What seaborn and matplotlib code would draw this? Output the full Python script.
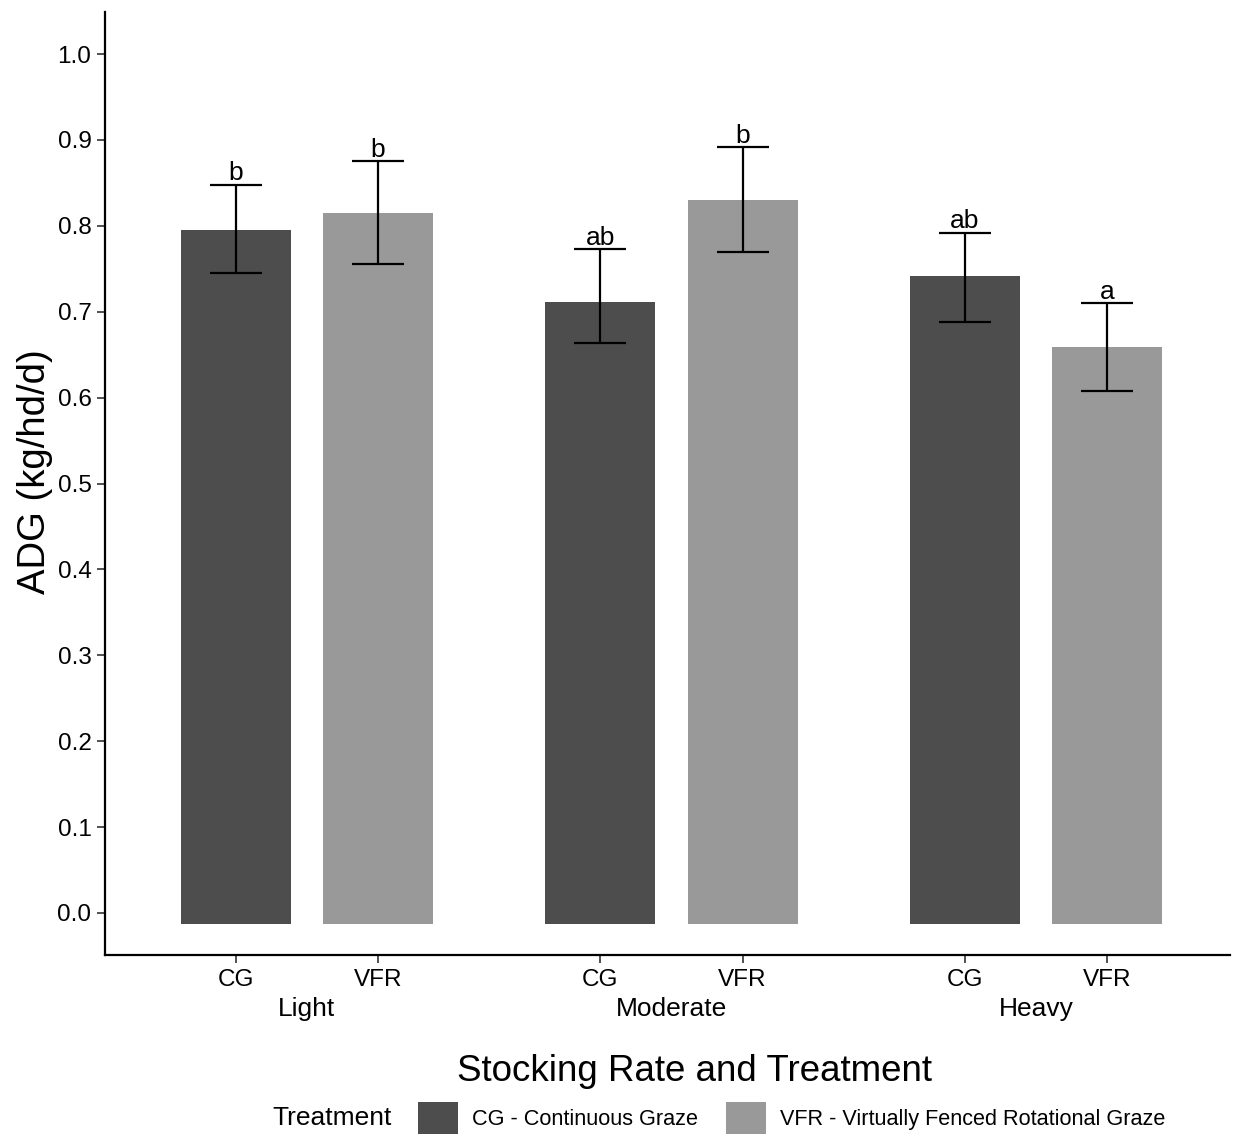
import numpy as np
import pandas as pd
import matplotlib
matplotlib.use("Agg")
import matplotlib.pyplot as plt
from matplotlib.patches import Patch
import seaborn as sns

# Values
stocking = ["Light", "Light", "Moderate", "Moderate", "Heavy", "Heavy"]
treatment = ["CG", "VFR", "CG", "VFR", "CG", "VFR"]
adg = [0.795, 0.815, 0.711, 0.830, 0.742, 0.659]
adg_low = [0.745, 0.756, 0.664, 0.769, 0.688, 0.608]
adg_high = [0.848, 0.875, 0.773, 0.892, 0.792, 0.710]
letters = ["b", "b", "ab", "b", "ab", "a"]

group_order = ["Light", "Moderate", "Heavy"]
trt_order = ["CG", "VFR"]
trt_colors = {"CG": "#4d4d4d", "VFR": "#999999"}
legend_labels = ["CG - Continuous Graze", "VFR - Virtually Fenced Rotational Graze"]
bar_floor = -0.013  # bars in the original start a little under zero

df = pd.DataFrame({"stocking": stocking, "treatment": treatment, "adg": adg,
                   "low": adg_low, "high": adg_high, "letter": letters})

sns.set_style("white")
plt.rcParams["font.family"] = ["Liberation Sans", "DejaVu Sans"]
plt.rcParams["text.color"] = "black"

fig = plt.figure(figsize=(12.41, 11.42), dpi=100)
ax = fig.add_axes([0.0846, 0.1637, 0.9065, 0.8258])

sns.barplot(data=df, x="stocking", y="adg", hue="treatment", order=group_order,
            hue_order=trt_order, palette=trt_colors, width=0.78, gap=0.226,
            errorbar=None, saturation=1, linewidth=0, legend=False, ax=ax)

# match bars to rows by position
df["g"] = df["stocking"].map({g: i for i, g in enumerate(group_order)})
df["t"] = df["treatment"].map({t: i for i, t in enumerate(trt_order)})
rows = df.sort_values(["g", "t"]).reset_index(drop=True)
bars = sorted(ax.patches, key=lambda p: p.get_x())

centers = []
for bar, (_, r) in zip(bars, rows.iterrows()):
    bar.set_y(bar_floor)
    bar.set_height(r["adg"] - bar_floor)
    xc = bar.get_x() + bar.get_width() / 2
    centers.append(xc)
    ax.errorbar(xc, r["adg"], yerr=[[r["adg"] - r["low"]], [r["high"] - r["adg"]]],
                color="black", lw=1.6, capsize=19, capthick=1.6, zorder=3)
    ax.text(xc, r["high"] + 0.005, r["letter"], ha="center", va="baseline",
            fontsize=19, color="black")

ax.set_ylim(-0.049, 1.049)
ax.set_xlim(-0.554, 2.532)
ax.set_yticks(np.arange(0, 1.01, 0.1))
ax.set_yticklabels([f"{v:.1f}" for v in np.arange(0, 1.01, 0.1)])
ax.set_xticks(centers)
ax.set_xticklabels(rows["treatment"])
ax.set_xticks(range(len(group_order)), minor=True)
ax.set_xticklabels(group_order, minor=True)
ax.tick_params(axis="both", which="major", length=5.5, width=1.2, color="#333333",
               labelsize=17.5, labelcolor="black", pad=4.3)
ax.tick_params(axis="x", which="minor", length=0, labelsize=19, labelcolor="black", pad=30)
ax.tick_params(left=True, bottom=True)
ax.set_xlabel("")
ax.set_ylabel("")

for side in ["top", "right"]:
    ax.spines[side].set_visible(False)
for side in ["left", "bottom"]:
    ax.spines[side].set_color("black")
    ax.spines[side].set_linewidth(1.6)

fig.text(35 / 1241, 1 - 472 / 1142, "ADG (kg/hd/d)", rotation=90,
         ha="center", va="center", fontsize=27.5, color="black")
fig.text(0.560, 0.062, "Stocking Rate and Treatment", ha="center", va="center",
         fontsize=26.5, color="black")
fig.text(0.2675, 0.021, "Treatment", ha="center", va="center", fontsize=19, color="black")

handles = [Patch(facecolor=trt_colors[t], edgecolor="none") for t in trt_order]
fig.legend(handles, legend_labels, ncol=2, loc="center left",
           bbox_to_anchor=(418 / 1241, 0.021), frameon=False,
           handlelength=1.84, handleheight=1.84, handletextpad=0.65,
           columnspacing=1.3, borderpad=0, borderaxespad=0,
           prop={"size": 15.6})

fig.savefig("out.png", dpi=100)
